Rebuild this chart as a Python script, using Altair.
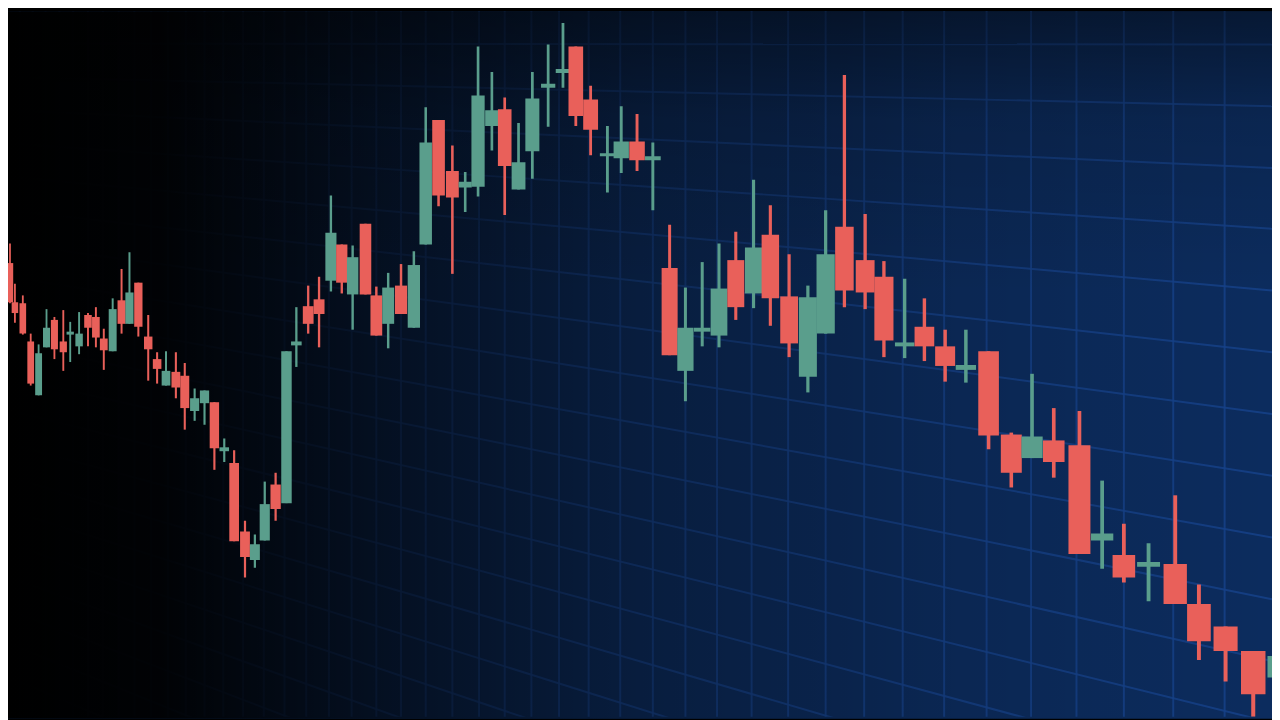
import altair as alt
import pandas as pd

# ---- candle data (time position along the perspective axis, OHLC prices) ----
t = [2, 7, 15, 23, 31, 39, 47, 56, 63, 72, 81, 89, 97, 106, 115, 123, 132, 142, 151, 160,
     170, 179, 189, 199, 209, 219, 229, 240, 250, 260, 271, 282, 292, 304, 315, 327, 338, 349, 362, 373,
     385, 398, 411, 423, 436, 450, 463, 476, 490, 503, 517, 531, 547, 562, 575, 590, 607, 621, 637, 653,
     670, 686, 703, 720, 737, 755, 772, 791, 810, 828, 847, 868, 887, 908, 928, 949, 970, 993, 1016, 1037,
     1059, 1085, 1108, 1130, 1155, 1182, 1206, 1233, 1261, 1288]
open_ = [463, 423, 422, 383, 328, 377, 405, 383, 390, 378, 410, 408, 386, 373, 425, 401, 443, 388, 365, 338,
         352, 348, 312, 320, 321, 271, 259, 189, 160, 180, 237, 218, 379, 419, 426, 445, 482, 431, 503, 430,
         401, 440, 397, 482, 609, 557, 540, 541, 603, 620, 538, 577, 642, 657, 684, 630, 572, 570, 587, 568,
         458, 353, 393, 389, 466, 432, 492, 429, 347, 391, 500, 466, 449, 378, 398, 378, 354, 373, 288, 264,
         282, 277, 180, 165, 153, 156, 115, 92, 67, 40]
close = [423, 412, 391, 340, 371, 397, 375, 372, 393, 391, 397, 387, 374, 416, 401, 433, 398, 375, 355, 353,
         336, 315, 325, 333, 274, 275, 179, 163, 176, 217, 212, 373, 383, 401, 411, 494, 443, 469, 431, 389,
         438, 411, 461, 586, 532, 530, 546, 634, 619, 562, 566, 631, 646, 661, 613, 599, 575, 587, 568, 572,
         369, 397, 397, 437, 418, 479, 427, 381, 428, 472, 435, 433, 384, 382, 378, 358, 359, 287, 249, 286,
         260, 166, 187, 142, 158, 115, 77, 67, 23, 62]
high = [483, 442, 430, 391, 380, 416, 408, 415, 403, 413, 412, 418, 396, 427, 457, 474, 443, 410, 372, 373,
        372, 361, 335, 333, 321, 284, 272, 200, 186, 240, 249, 373, 418, 440, 449, 532, 482, 481, 503, 439,
        453, 462, 475, 622, 609, 583, 556, 684, 658, 632, 606, 658, 686, 708, 684, 644, 603, 623, 615, 586,
        502, 438, 464, 483, 495, 548, 522, 472, 440, 517, 655, 513, 465, 447, 427, 395, 395, 373, 290, 350,
        315, 312, 241, 197, 177, 226, 135, 92, 67, 70]
low = [422, 402, 390, 338, 328, 377, 365, 353, 362, 370, 378, 377, 354, 373, 391, 401, 388, 343, 340, 338,
       325, 293, 302, 298, 252, 260, 179, 142, 152, 180, 200, 218, 357, 391, 377, 434, 432, 395, 431, 389,
       376, 411, 397, 482, 521, 452, 515, 531, 578, 512, 538, 549, 602, 642, 603, 573, 535, 555, 557, 517,
       369, 322, 378, 377, 405, 417, 399, 367, 331, 391, 418, 416, 367, 366, 363, 342, 341, 273, 234, 264,
       244, 166, 151, 137, 118, 115, 58, 36, 0, 30]

# ---- perspective grid ----
grid_x = [12, 25, 38, 52, 66, 81, 96, 112, 128, 145, 162, 180, 199, 218, 238, 259, 280, 302, 325, 348,
          373, 398, 423, 450, 477, 503, 530, 558, 588, 620, 653, 686, 718, 753, 790, 828, 867, 906, 948, 991,
          1036, 1082, 1130, 1180, 1232]
grid_left = [687, 653, 619, 585, 551, 517, 483, 449, 415, 381, 347, 313, 279, 245, 211, 177, 143, 109, 75, 41, 7]
grid_right = [686, 623, 560, 498, 435, 372, 309, 246, 183, 120, 57, -6, -69, -132, -195, -258, -321, -384, -447, -510, -573]

RED = "#E9605A"
GREEN = "#5A9E8C"
NAVY = "#0c2c5e"
GRID = "#16428a"

W, H = 1272, 712
xs = alt.Scale(domain=[0, 1280], nice=False, zero=False)
ys = alt.Scale(domain=[0, 720], nice=False, zero=False)

candles = pd.DataFrame({"t": t, "open": open_, "high": high, "low": low, "close": close})
candles["dir"] = ["up" if c >= o else "down" for o, c in zip(open_, close)]

vgrid = pd.DataFrame({"gx": grid_x})
hgrid = pd.DataFrame({"left": grid_left, "right": grid_right})
one = pd.DataFrame({"k": [0]})

bg = alt.Chart(one).mark_rect(color=NAVY).encode(
    x=alt.value(0), x2=alt.value(W), y=alt.value(0), y2=alt.value(H))

vlines = alt.Chart(vgrid).mark_rule(color=GRID, strokeWidth=2, opacity=0.85).encode(
    x=alt.X("gx:Q", scale=xs, axis=None))

hlines = alt.Chart(hgrid).mark_rule(color=GRID, strokeWidth=2, opacity=0.85, clip=True).transform_calculate(
    xa="0", xb="1280"
).encode(
    x=alt.X("xa:Q", scale=xs, axis=None), x2="xb:Q",
    y=alt.Y("left:Q", scale=ys, axis=None), y2="right:Q")

shade_h = alt.Chart(one).mark_rect(
    color=alt.Gradient(
        gradient="linear", x1=0, x2=1, y1=0, y2=0,
        stops=[alt.GradientStop(offset=0, color="rgba(0,0,0,1)"),
               alt.GradientStop(offset=0.12, color="rgba(0,0,0,0.95)"),
               alt.GradientStop(offset=0.3, color="rgba(0,0,0,0.64)"),
               alt.GradientStop(offset=0.5, color="rgba(0,0,0,0.34)"),
               alt.GradientStop(offset=0.75, color="rgba(0,0,0,0.12)"),
               alt.GradientStop(offset=1, color="rgba(0,0,0,0)")])
).encode(x=alt.value(0), x2=alt.value(W), y=alt.value(0), y2=alt.value(H))

shade_v = alt.Chart(one).mark_rect(
    color=alt.Gradient(
        gradient="linear", x1=0, x2=0, y1=0, y2=1,
        stops=[alt.GradientStop(offset=0, color="rgba(0,0,0,0.45)"),
               alt.GradientStop(offset=0.15, color="rgba(0,0,0,0.15)"),
               alt.GradientStop(offset=0.4, color="rgba(0,0,0,0)"),
               alt.GradientStop(offset=1, color="rgba(0,0,0,0)")])
).encode(x=alt.value(0), x2=alt.value(W), y=alt.value(0), y2=alt.value(H))

color = alt.Color("dir:N", scale=alt.Scale(domain=["up", "down"], range=[GREEN, RED]), legend=None)

base = alt.Chart(candles).transform_calculate(
    bl="datum.t - (6.5 + 0.0145 * datum.t) / 2",
    br="datum.t + (6.5 + 0.0145 * datum.t) / 2",
    wl="datum.t - (1.8 + 0.0018 * datum.t) / 2",
    wr="datum.t + (1.8 + 0.0018 * datum.t) / 2",
)

wicks = base.mark_rect(clip=True).encode(
    x=alt.X("wl:Q", scale=xs, axis=None), x2="wr:Q",
    y=alt.Y("high:Q", scale=ys, axis=None), y2="low:Q",
    color=color)

bodies = base.mark_rect(clip=True).encode(
    x=alt.X("bl:Q", scale=xs, axis=None), x2="br:Q",
    y=alt.Y("open:Q", scale=ys, axis=None), y2="close:Q",
    color=color)

chart = alt.layer(bg, vlines, hlines, shade_h, shade_v, wicks, bodies).properties(
    width=W, height=H,
    autosize=alt.AutoSizeParams(type="fit", contains="padding"),
    padding=0,
    background="#000000",
).configure_view(stroke=None)

chart.save("out.html", embed_options={"renderer": "svg", "actions": False})
